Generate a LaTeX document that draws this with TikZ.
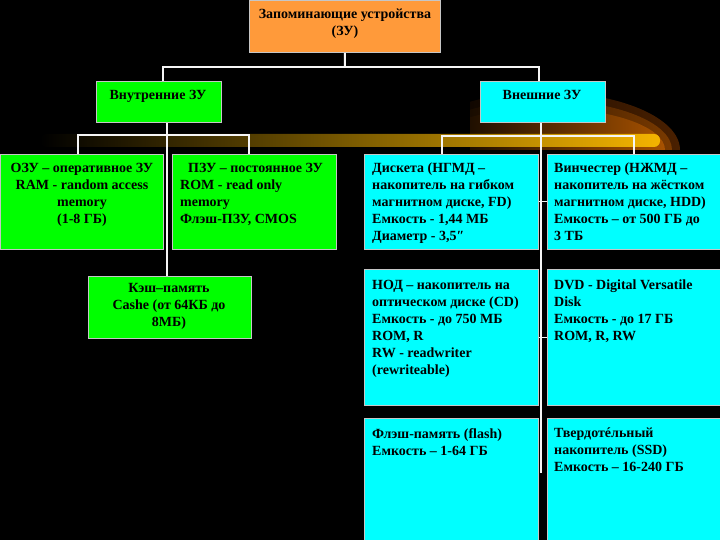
\documentclass[tikz,border=0pt]{standalone}
\usepackage{fontspec}
\setmainfont{Liberation Serif}
\usepackage{tikz}

\definecolor{zorange}{HTML}{FF9A3A}
\definecolor{zgreen}{HTML}{00FF00}
\definecolor{zcyan}{HTML}{00FFFF}
\definecolor{zbar}{HTML}{F4B400}
\definecolor{glowa}{HTML}{4A2000}
\definecolor{glowb}{HTML}{7A3A00}
\definecolor{glowc}{HTML}{A85200}

\begin{document}
\begin{tikzpicture}[x=1pt, y=-1pt,
    box/.style = {draw=gray!45, line width=0.8pt, anchor=north west, inner sep=0pt},
    obox/.style = {box, fill=zorange},
    gbox/.style = {box, fill=zgreen},
    cbox/.style = {box, fill=zcyan},
    txt/.style = {inner sep=0pt, text=black, font=\bfseries\fontsize{14}{17}\selectfont},
    wire/.style = {draw=white!92!gray, line width=2pt}]
        \fill[black] (0,0) rectangle (720,540);
        \useasboundingbox (0,0) rectangle (720,540);
        \begin{scope}
          \clip (470,60) rectangle (700,150);
          \shade[left color=black, right color=glowa] (545,150) ellipse [x radius=135, y radius=58];
          \shade[left color=black, right color=glowb] (545,150) ellipse [x radius=127, y radius=50];
          \shade[left color=black, right color=glowc] (545,150) ellipse [x radius=120, y radius=42];
        \end{scope}
        \shade[left color=black, right color=zbar, rounded corners=6pt] (40,134) rectangle (660,147);
        \node[obox, minimum width=191pt, minimum height=52pt] (zu) at (249,0) {};
        \node[gbox, minimum width=125pt, minimum height=41pt] (vnut) at (96,81) {};
        \node[cbox, minimum width=125pt, minimum height=41pt] (vnesh) at (480,81) {};
        \node[gbox, minimum width=163pt, minimum height=95pt] (ozu) at (0,154) {};
        \node[gbox, minimum width=164pt, minimum height=95pt] (pzu) at (172,154) {};
        \node[gbox, minimum width=163pt, minimum height=62pt] (cache) at (88,276) {};
        \node[cbox, minimum width=174pt, minimum height=95pt] (disk) at (364,154) {};
        \node[cbox, minimum width=174pt, minimum height=95pt] (hdd) at (547,154) {};
        \node[cbox, minimum width=174pt, minimum height=136pt] (cd) at (364,269) {};
        \node[cbox, minimum width=174pt, minimum height=136pt] (dvd) at (547,269) {};
        \node[cbox, minimum width=174pt, minimum height=124pt] (flash) at (364,418) {};
        \node[cbox, minimum width=174pt, minimum height=124pt] (ssd) at (547,418) {};
        \node[txt, anchor=north, align=center] (zu-t) at (345,9) {Запоминающие устройства\\(ЗУ)};
        \node[txt, anchor=north] (vnut-t) at (158,90) {Внутренние ЗУ};
        \node[txt, anchor=north] (vnesh-t) at (542,90) {Внешние ЗУ};
        \node[txt, anchor=north, align=center] (ozu-t) at (82,163) {ОЗУ – оперативное ЗУ\\RAM - random access\\memory\\(1-8 ГБ)};
        \node[txt, anchor=north west, align=left] (pzu-t) at (180,163) {\hspace{8pt}ПЗУ – постоянное ЗУ\\ROM - read only\\memory\\Флэш-ПЗУ, CMOS};
        \node[txt, anchor=north, align=center] (cache-t) at (169,283) {Кэш–память\\Cashe (от 64КБ до\\8МБ)};
        \node[txt, anchor=north west, align=left] (disk-t) at (372,163) {Дискета (НГМД –\\накопитель на гибком\\магнитном диске, FD)\\Емкость - 1,44 МБ\\Диаметр - 3,5″};
        \node[txt, anchor=north west, align=left] (hdd-t) at (554,163) {Винчестер (НЖМД –\\накопитель на жёстком\\магнитном диске, HDD)\\Емкость – от 500 ГБ до\\3 ТБ};
        \node[txt, anchor=north west, align=left] (cd-t) at (372,280) {НОД – накопитель на\\оптическом диске (CD)\\Емкость - до 750 МБ\\ROM, R\\RW - readwriter\\(rewriteable)};
        \node[txt, anchor=north west, align=left] (dvd-t) at (554,280) {DVD - Digital Versatile\\Disk\\Емкость - до 17 ГБ\\ROM, R, RW};
        \node[txt, anchor=north west, align=left] (flash-t) at (372,428) {Флэш-память (flash)\\Емкость – 1-64 ГБ};
        \node[txt, anchor=north west, align=left] (ssd-t) at (554,428) {Твердотéльный\\накопитель (SSD)\\Емкость – 16-240 ГБ};
        \coordinate (hub) at (345,67);
        \coordinate (hubl) at (167,135);
        \coordinate (hubr) at (541,136);
        \coordinate (tail) at (541,473);
        \draw[wire] (zu.south) -- (hub);
        \draw[wire] ([xshift=4pt]vnut.north) |- (hub) -| ([xshift=-4pt]vnesh.north);
        \draw[wire] ([xshift=-4pt]ozu.north) |- (hubl) -| ([xshift=-5pt]pzu.north);
        \draw[wire] (vnut.south -| hubl) -- (cache.north -| hubl);
        \draw[wire] ([xshift=-9pt]disk.north) |- (hubr) -| (hdd.north);
        \draw[wire] (vnesh.south -| tail) -- (tail);
        \draw[wire, line width=1.2pt] (disk.east) -- (hdd.west);
        \draw[wire, line width=1.2pt] (cd.east) -- (dvd.west);
      \end{tikzpicture}
\end{document}
